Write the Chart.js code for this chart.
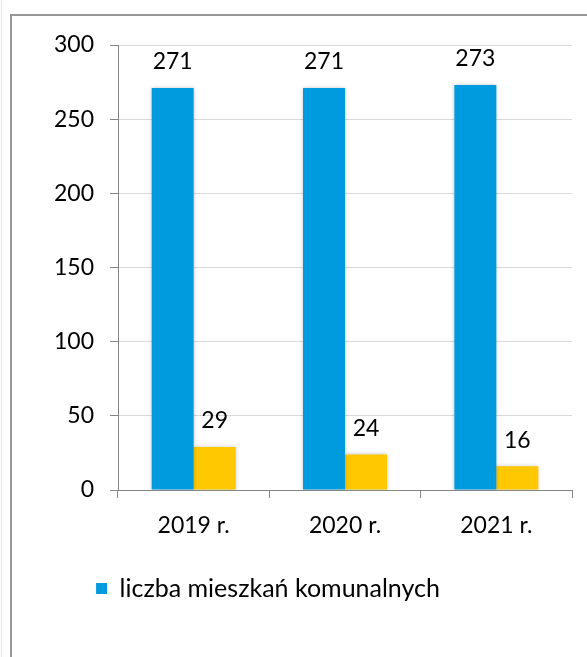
<!DOCTYPE html>
<html>
<head>
<meta charset="utf-8">
<script src="https://cdn.jsdelivr.net/npm/chart.js@4"></script>
<style>
  html, body { margin: 0; padding: 0; background: #fff; }
  #wrap { position: relative; width: 587px; height: 657px; overflow: hidden; }
  #frame { position: absolute; left: 10px; top: 14px; width: 700px; height: 800px;
           border-left: 2px solid #979797; border-top: 2px solid #979797; }
  #edge { position: absolute; left: 1px; top: 0; width: 1px; height: 657px; background: #e4e4e4; }
  canvas { position: absolute; left: 0; top: 0; }
</style>
</head>
<body>
<div id="wrap">
  <div id="edge"></div>
  <div id="frame"></div>
  <canvas id="chart" width="587" height="657"></canvas>
</div>
<script>
// dane
const lata = ['2019 r.', '2020 r.', '2021 r.'];
const mieszkaniaKomunalne = [271, 271, 273];
const drugaSeria = [29, 24, 16];
const osY = [0, 50, 100, 150, 200, 250, 300];

const FONT = 'Lato, Calibri, "Liberation Sans", sans-serif';

// etykiety wartosci nad slupkami
const etykiety = {
    id: 'etykiety',
    afterDatasetsDraw(chart) {
        const ctx = chart.ctx;
        ctx.save();
        ctx.font = '23px ' + FONT;
        ctx.fillStyle = '#000';
        ctx.textAlign = 'center';
        ctx.textBaseline = 'middle';
        chart.data.datasets.forEach((ds, i) => {
            chart.getDatasetMeta(i).data.forEach((bar, j) => {
                ctx.fillText(ds.data[j], bar.x, bar.y - 26);
            });
        });
        ctx.restore();
    }
};

// lekki cien slupkow
const cien = {
    id: 'cien',
    beforeDatasetsDraw(chart) {
        chart.ctx.save();
        chart.ctx.shadowColor = 'rgba(0,0,0,0.22)';
        chart.ctx.shadowBlur = 4;
    },
    afterDatasetsDraw(chart) {
        chart.ctx.restore();
    }
};

new Chart(document.getElementById('chart'), {
    type: 'bar',
    data: {
        labels: lata,
        datasets: [
            {
                label: 'liczba mieszkań komunalnych',
                data: mieszkaniaKomunalne,
                backgroundColor: '#009ADE'
            },
            {
                label: 'seria 2',
                data: drugaSeria,
                backgroundColor: '#FFC800'
            }
        ]
    },
    options: {
        responsive: false,
        animation: false,
        layout: { padding: { left: -36, right: 15, top: 45, bottom: 46 } },
        datasets: { bar: { categoryPercentage: 0.555, barPercentage: 1 } },
        scales: {
            y: {
                min: 0,
                max: 300,
                afterBuildTicks(axis) { axis.ticks = osY.map(v => ({ value: v })); },
                afterFit(axis) { axis.width = 154; },
                grid: { color: '#d9d9d9', tickColor: '#868686', tickLength: 8, lineWidth: 1 },
                border: { color: '#868686', width: 1 },
                ticks: { color: '#000', padding: 16, font: { family: FONT, size: 23 } }
            },
            x: {
                afterFit(axis) { axis.height = 77; },
                grid: { drawOnChartArea: false, drawTicks: true, tickLength: 8, tickColor: '#868686', offset: true },
                border: { color: '#868686', width: 1 },
                ticks: { color: '#000', padding: 14, font: { family: FONT, size: 23 } }
            }
        },
        plugins: {
            tooltip: { enabled: false },
            legend: {
                position: 'bottom',
                labels: {
                    filter: item => item.datasetIndex === 0,
                    boxWidth: 11,
                    boxHeight: 11,
                    color: '#000',
                    padding: 9,
                    font: { family: FONT, size: 25 }
                }
            }
        }
    },
    plugins: [cien, etykiety]
});
</script>
</body>
</html>
